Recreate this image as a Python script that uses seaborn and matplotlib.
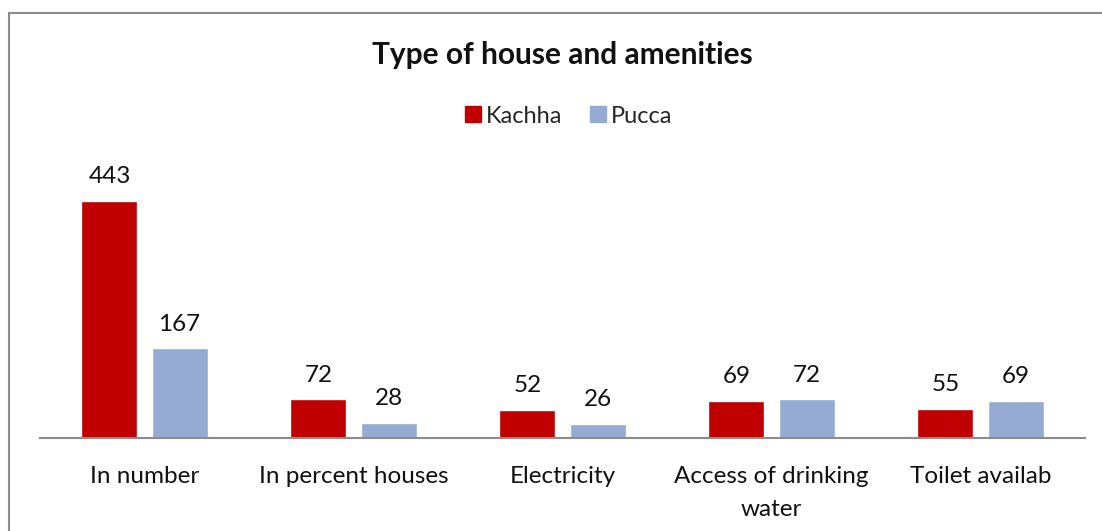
import matplotlib
matplotlib.use("Agg")
import matplotlib.pyplot as plt
import seaborn as sns
import pandas as pd
from matplotlib.lines import Line2D

categories = ["In number", "In percent houses", "Electricity", "Access of drinking\nwater", "Toilet availab"]
kachha = [443, 72, 52, 69, 55]
pucca = [167, 28, 26, 72, 69]
series_names = ["Kachha", "Pucca"]
colors = ["#C00000", "#95ABD3"]

df = pd.DataFrame({
    "category": categories * 2,
    "value": kachha + pucca,
    "series": [series_names[0]] * len(categories) + [series_names[1]] * len(categories),
})

sns.set_theme(style="white")
plt.rcParams["font.family"] = ["Lato", "DejaVu Sans"]

W, H = 1102, 531
fig = plt.figure(figsize=(W / 100, H / 100), dpi=100)
ax = fig.add_axes([40 / W, 93 / H, (1085 - 40) / W, (438 - 170) / H])

sns.barplot(data=df, x="category", y="value", hue="series", palette=colors,
            width=0.67, gap=0.2, ax=ax, legend=False, saturation=1)

ax.set_ylim(0, 500)
ax.set_xlim(-0.5, len(categories) - 0.5)
ax.set_xlabel("")
ax.set_ylabel("")
ax.set_yticks([])
for s in ["top", "right", "left"]:
    ax.spines[s].set_visible(False)
ax.spines["bottom"].set_color("#8c8c8c")
ax.spines["bottom"].set_linewidth(1.5)
ax.tick_params(axis="x", length=0, pad=20, labelsize=17.5, labelcolor="#111111")
for lbl in ax.get_xticklabels():
    lbl.set_linespacing(1.7)

for cont in ax.containers:
    ax.bar_label(cont, padding=10, fontsize=17.5, color="#111111")

fig.text(562 / W, 1 - 55 / H, "Type of house and amenities", ha="center", va="center",
         fontsize=21.5, fontweight="bold", color="#111111")

handles = [Line2D([0], [0], marker="s", linestyle="", markersize=11, markerfacecolor=c,
                  markeredgecolor=c) for c in colors]
fig.legend(handles, series_names, loc="center", bbox_to_anchor=(567 / W, 1 - 116 / H),
           ncol=2, frameon=False, fontsize=17, handletextpad=0.05, columnspacing=1.0,
           handlelength=1.0)

# chart border (top and left visible)
fig.add_artist(Line2D([9 / W, 1.0], [1 - 13 / H, 1 - 13 / H], color="#8c8c8c", linewidth=1.5,
                      transform=fig.transFigure))
fig.add_artist(Line2D([9 / W, 9 / W], [0, 1 - 13 / H], color="#8c8c8c", linewidth=1.5,
                      transform=fig.transFigure))

fig.savefig("out.png", dpi=100, facecolor="white")
